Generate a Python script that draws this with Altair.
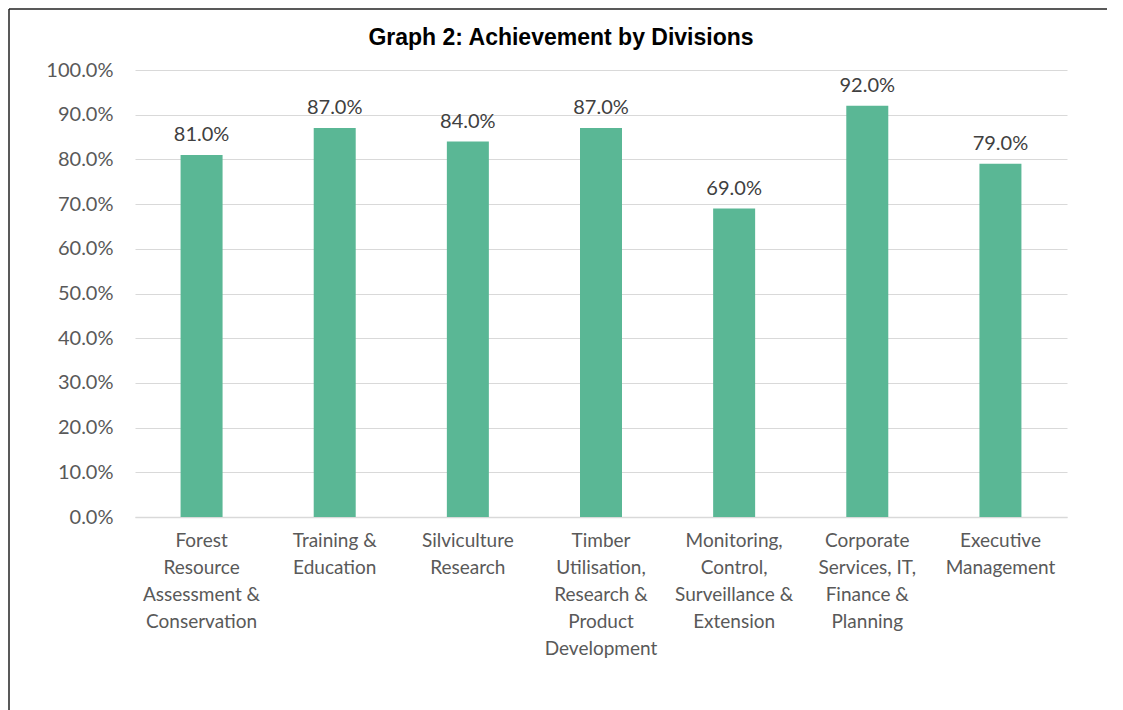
import altair as alt
import pandas as pd

title_text = "Graph 2: Achievement by Divisions"
categories = [
    "Forest\nResource\nAssessment &\nConservation",
    "Training &\nEducation",
    "Silviculture\nResearch",
    "Timber\nUtilisation,\nResearch &\nProduct\nDevelopment",
    "Monitoring,\nControl,\nSurveillance &\nExtension",
    "Corporate\nServices, IT,\nFinance &\nPlanning",
    "Executive\nManagement",
]
achievement = [0.81, 0.87, 0.84, 0.87, 0.69, 0.92, 0.79]

df = pd.DataFrame({"division": categories, "value": achievement})

FONT = "Lato"
TXT = "#595959"
BAR = "#5ab795"

x_enc = alt.X(
    "division:N",
    sort=None,
    title=None,
    scale=alt.Scale(paddingInner=0, paddingOuter=0),
    axis=alt.Axis(
        labelExpr="split(datum.label, '\\n')",
        labelAngle=0,
        labelFont=FONT,
        labelFontSize=19,
        labelColor=TXT,
        labelLineHeight=27,
        labelPadding=14,
        labelBaseline="top",
        ticks=False,
        domainColor="#d9d9d9",
        domainWidth=1.5,
        grid=False,
    ),
)
y_enc = alt.Y(
    "value:Q",
    title=None,
    scale=alt.Scale(domain=[0, 1], nice=False),
    axis=alt.Axis(
        format=".1%",
        values=[i / 10 for i in range(11)],
        labelFont=FONT,
        labelFontSize=20,
        labelColor=TXT,
        labelPadding=22,
        ticks=False,
        domain=False,
        gridColor="#d9d9d9",
        gridWidth=1.2,
    ),
)

bars = alt.Chart(df).mark_bar(color=BAR, size=42).encode(x=x_enc, y=y_enc)
labels = alt.Chart(df).mark_text(
    font=FONT, fontSize=20, color="#404040", dy=-14, baseline="alphabetic"
).encode(x=alt.X("division:N", sort=None), y="value:Q", text=alt.Text("value:Q", format=".1%"))

title = alt.Chart(pd.DataFrame({"t": [title_text]})).mark_text(
    font="Liberation Sans", fontSize=23, fontWeight="bold", color="#000000",
    baseline="alphabetic", align="center",
).encode(text="t:N", x=alt.value(426), y=alt.value(-25))

border_left = alt.Chart(pd.DataFrame({"a": [0]})).mark_rule(color="#222222", strokeWidth=1.5).encode(
    x=alt.value(-126), y=alt.value(-61), y2=alt.value(720)
)
border_top = alt.Chart(pd.DataFrame({"a": [0]})).mark_rule(color="#222222", strokeWidth=1.5).encode(
    x=alt.value(-126), x2=alt.value(990), y=alt.value(-61)
)

chart = alt.layer(bars, labels, title, border_left, border_top).properties(
    width=932,
    height=447,
    autosize=alt.AutoSizeParams(type="none"),
    padding={"left": 127, "top": 62, "right": 40, "bottom": 200},
).configure(background="white").configure_view(stroke=None)

chart.save("out.html", embed_options={"renderer": "svg", "actions": False})
